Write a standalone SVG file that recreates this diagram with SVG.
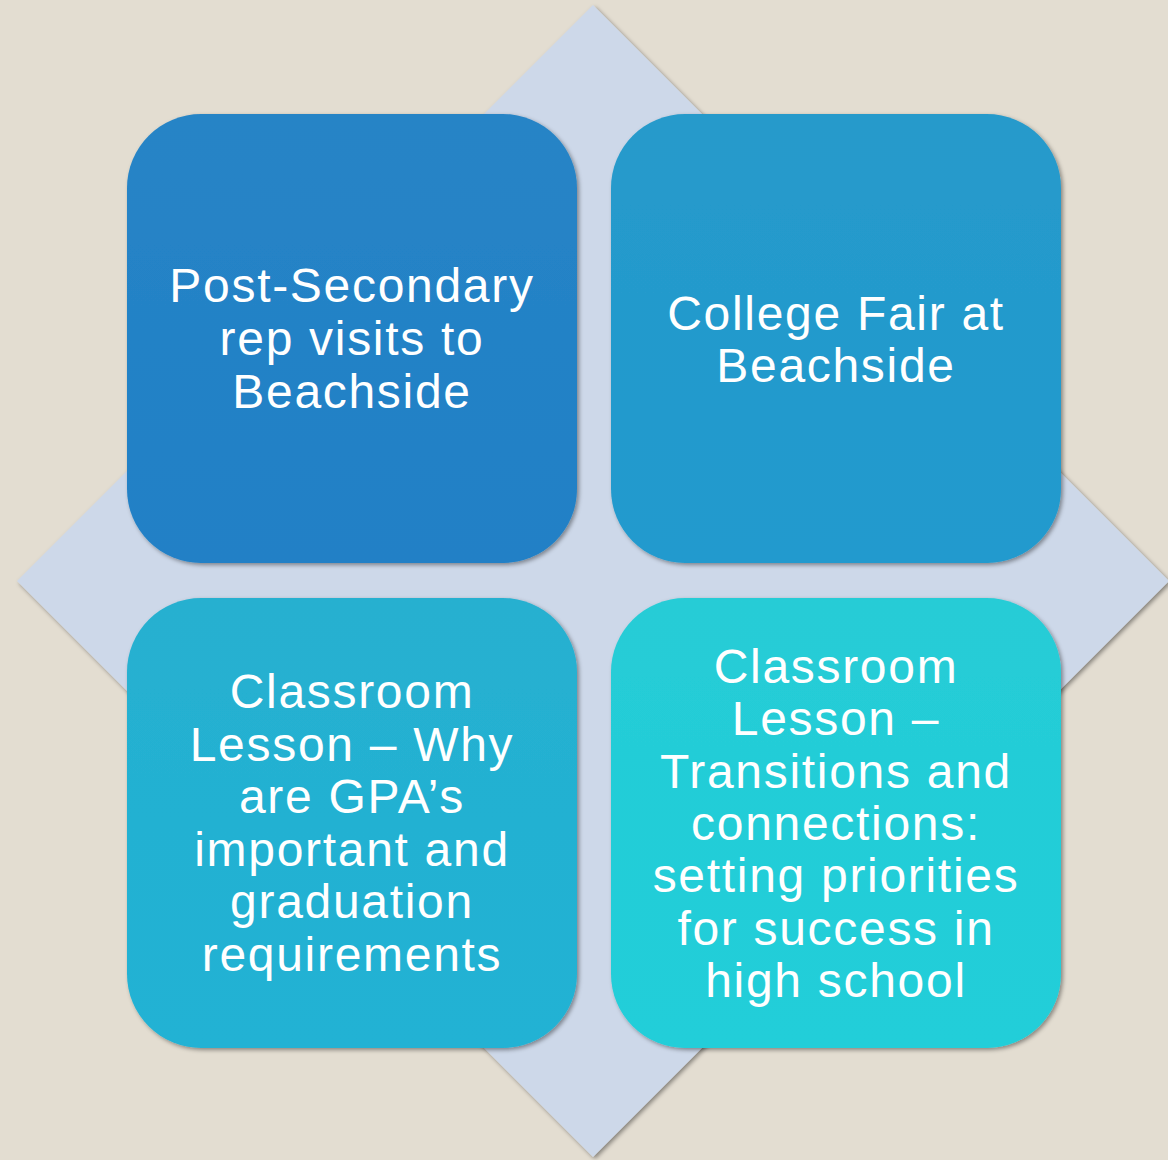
<svg xmlns="http://www.w3.org/2000/svg" width="1168" height="1160" viewBox="0 0 1168 1160">
<defs>
<filter id="sh" x="-10%" y="-10%" width="120%" height="120%">
<feDropShadow dx="2" dy="2" stdDeviation="2" flood-color="#000" flood-opacity="0.4"/>
</filter>
<linearGradient id="g1" x1="0" y1="0" x2="0" y2="1"><stop offset="0" stop-color="#2784C6"/><stop offset="1" stop-color="#2080C6"/></linearGradient>
<linearGradient id="g2" x1="0" y1="0" x2="0" y2="1"><stop offset="0" stop-color="#269ACB"/><stop offset="1" stop-color="#219ACE"/></linearGradient>
<linearGradient id="g3" x1="0" y1="0" x2="0" y2="1"><stop offset="0" stop-color="#26B0D0"/><stop offset="1" stop-color="#21B2D4"/></linearGradient>
<linearGradient id="g4" x1="0" y1="0" x2="0" y2="1"><stop offset="0" stop-color="#26CCD6"/><stop offset="1" stop-color="#20CED9"/></linearGradient>
</defs>
<style>
.box{filter:url(#sh)}
.t{font-family:"Liberation Sans","DejaVu Sans",sans-serif;font-size:48px;letter-spacing:1.7px;fill:#ffffff;text-anchor:middle}
</style>
<rect width="1168" height="1160" fill="#E3DDD1"/>
<polygon points="593,5 1169,581 593,1157 17,581" fill="#CDD8E9" filter="url(#sh)"/>
<g id="node-tl">
<rect class="box" x="127" y="114" width="450" height="449" rx="74" fill="url(#g1)"/>
<text class="t" x="352" y="302">Post-Secondary</text>
<text class="t" x="352" y="355">rep visits to</text>
<text class="t" x="352" y="408">Beachside</text>
</g>
<g id="node-tr">
<rect class="box" x="611" y="114" width="450" height="449" rx="74" fill="url(#g2)"/>
<text class="t" x="836" y="330">College Fair at</text>
<text class="t" x="836" y="382">Beachside</text>
</g>
<g id="node-bl">
<rect class="box" x="127" y="598" width="450" height="450" rx="74" fill="url(#g3)"/>
<text class="t" x="352" y="708">Classroom</text>
<text class="t" x="352" y="761">Lesson – Why</text>
<text class="t" x="352" y="813">are GPA’s</text>
<text class="t" x="352" y="866">important and</text>
<text class="t" x="352" y="918">graduation</text>
<text class="t" x="352" y="971">requirements</text>
</g>
<g id="node-br">
<rect class="box" x="611" y="598" width="450" height="450" rx="74" fill="url(#g4)"/>
<text class="t" x="836" y="683">Classroom</text>
<text class="t" x="836" y="735">Lesson –</text>
<text class="t" x="836" y="788">Transitions and</text>
<text class="t" x="836" y="840">connections:</text>
<text class="t" x="836" y="892">setting priorities</text>
<text class="t" x="836" y="945">for success in</text>
<text class="t" x="836" y="997">high school</text>
</g>
<g id="connectors"></g>
</svg>
